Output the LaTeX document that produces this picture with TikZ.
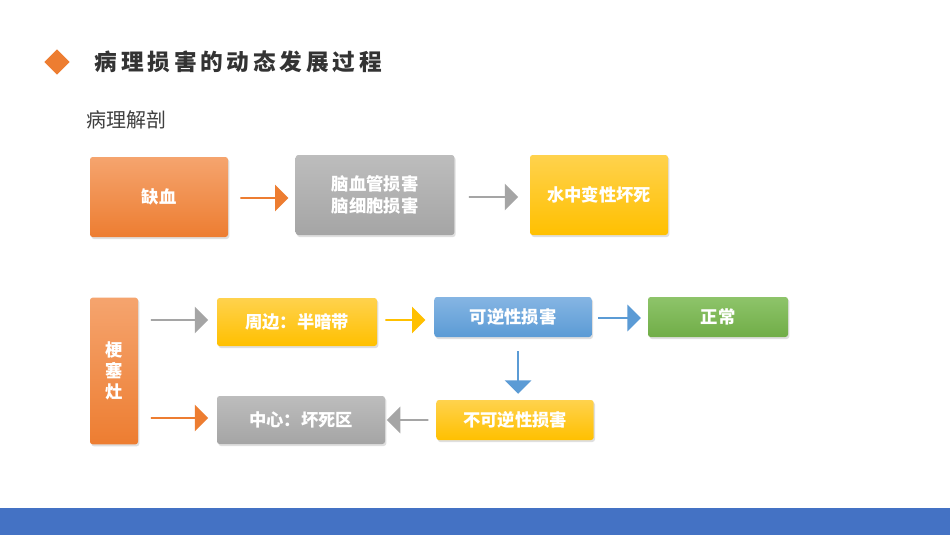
\documentclass[tikz,border=0pt]{standalone}
\usepackage{fontspec}
\setmainfont{Noto Sans CJK SC}
\usetikzlibrary{shapes.arrows,shapes.geometric}
\definecolor{cOr}{HTML}{ED7D31}\definecolor{cOrL}{HTML}{F5A46E}
\definecolor{cGr}{HTML}{A5A5A5}\definecolor{cGrL}{HTML}{BDBDBD}
\definecolor{cYe}{HTML}{FFC000}\definecolor{cYeL}{HTML}{FFD24D}
\definecolor{cBl}{HTML}{5B9BD5}\definecolor{cBlL}{HTML}{85B5E3}
\definecolor{cGn}{HTML}{70AD47}\definecolor{cGnL}{HTML}{8EC46A}
\definecolor{cBar}{HTML}{4472C4}
\tikzset{
 box/.style={draw=none,rounded corners=2pt,text=white,font=\bfseries\fontsize{13pt}{16pt}\selectfont,align=center,inner sep=0pt,
   top color=#1L,bottom color=#1,drop shadow={opacity=0.25,shadow xshift=1pt,shadow yshift=-1.5pt}},
 arr/.style={single arrow,draw=none,fill=#1,single arrow head extend=3pt,minimum width=20pt,inner sep=0pt,shape border uses incircle=false},
}
\usetikzlibrary{shadows}
\begin{document}
\begin{tikzpicture}[x=0.75pt,y=-0.75pt]
\useasboundingbox (0,0) rectangle (950,535);
\fill[white] (0,0) rectangle (950,535);
\node[diamond,fill=cOr,minimum width=19pt,minimum height=19pt,inner sep=0pt] (dia) at (57,62) {};
\node[anchor=west,font=\bfseries\fontsize{17pt}{20pt}\selectfont,text=black!80] (title) at (90,62) {病\,理\,损\,害\,的\,动\,态\,发\,展\,过\,程};
\node[anchor=west,font=\fontsize{15pt}{18pt}\selectfont,text=black!75] (sub) at (82,120) {病理解剖};
\node[box=cOr,minimum width=103.5pt,minimum height=60pt] (a) at (159,197) {缺血};
\node[box=cGr,minimum width=119pt,minimum height=60pt] (b) at (375,195) {脑血管损害\\脑细胞损害};
\node[box=cYe,minimum width=103.5pt,minimum height=60pt] (c) at (599,195) {水中变性坏死};
\node[arr=cOr,minimum height=36pt,rotate=0] (ab) at (264,198) {};
\node[arr=cGr,minimum height=37pt] (bc) at (493,197) {};
\node[box=cOr,minimum width=36pt,minimum height=110pt] (d) at (114,371) {梗\\塞\\灶};
\node[box=cYe,minimum width=120pt,minimum height=36pt] (e) at (297,322) {周边：半暗带};
\node[box=cBl,minimum width=118pt,minimum height=30pt] (f) at (513,317) {可逆性损害};
\node[box=cGn,minimum width=105pt,minimum height=30pt] (g) at (718,317) {正常};
\node[box=cYe,minimum width=118pt,minimum height=30pt] (h) at (515,420) {不可逆性损害};
\node[box=cGr,minimum width=126pt,minimum height=36pt] (i) at (301,420) {中心：坏死区};
\node[arr=cGr,minimum height=43pt] (de) at (179,320) {};
\node[arr=cOr,minimum height=43pt] (di) at (179,418) {};
\node[arr=cYe,minimum height=30pt] (ef) at (405,320) {};
\node[arr=cBl,minimum height=32pt] (fg) at (619,318) {};
\node[arr=cBl,minimum height=32pt,rotate=-90] (fh) at (518,372) {};
\node[arr=cGr,minimum height=31pt,rotate=180] (hi) at (408,420) {};
\fill[cBar] (0,508) rectangle (950,535);
\end{tikzpicture}
\end{document}
